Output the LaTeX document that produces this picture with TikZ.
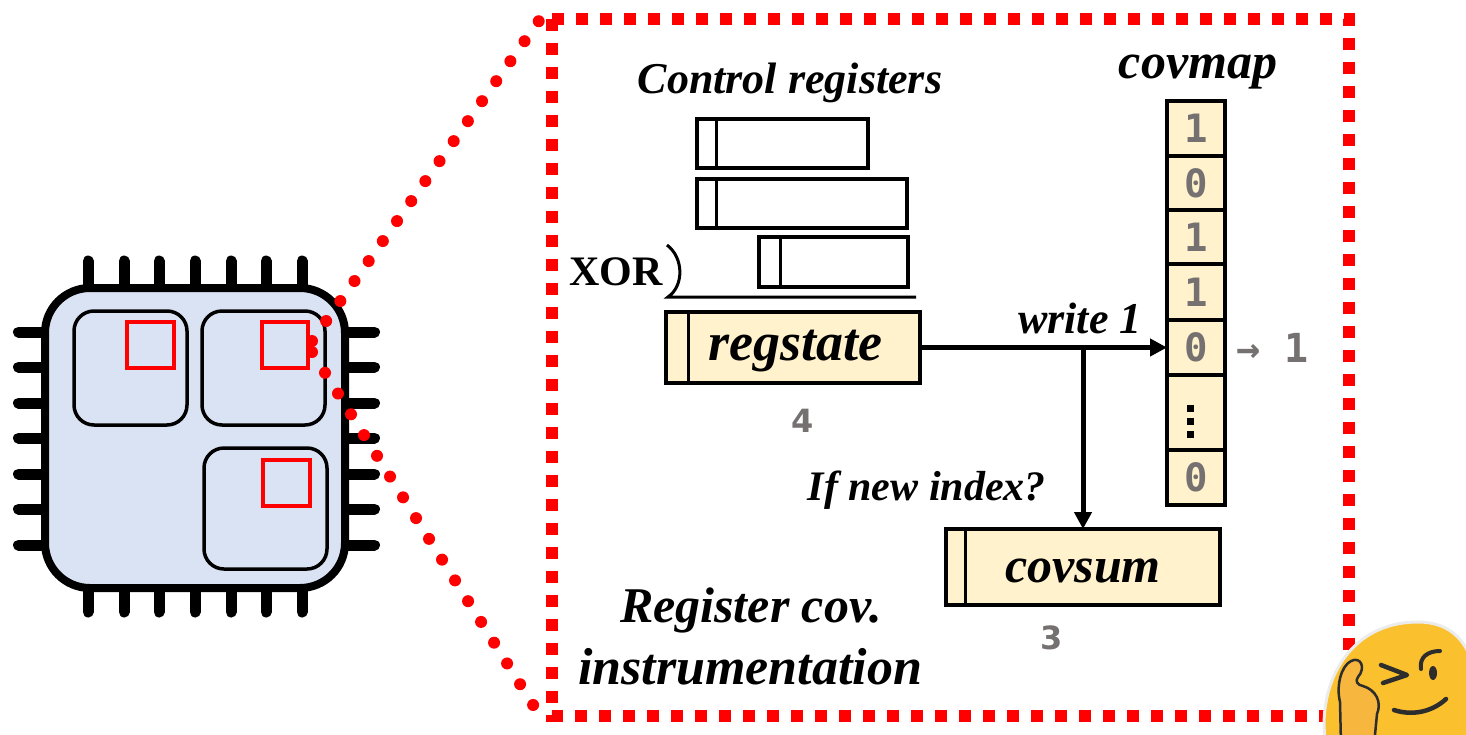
\documentclass[tikz,border=0pt]{standalone}
\usepackage{fontspec}
\setmainfont{Liberation Serif}
\newfontfamily\digitfont{DejaVu Sans Mono}
\newfontfamily\numfont{DejaVu Sans}
\usetikzlibrary{arrows.meta}
\definecolor{chipfill}{HTML}{DAE3F3}
\definecolor{regfill}{HTML}{FFF2CC}
\definecolor{numgray}{RGB}{118,113,113}
\definecolor{blobyellow}{RGB}{251,192,45}
\definecolor{blobrim}{RGB}{236,236,236}
\definecolor{handyellow}{RGB}{247,182,62}
\definecolor{inkdark}{RGB}{45,45,45}
\begin{document}
\begin{tikzpicture}[x=1pt,y=-1pt,
  bi/.style={font=\fontsize{#1}{#1}\selectfont\bfseries\itshape, inner sep=0pt},
  dig/.style={font=\fontsize{#1}{#1}\selectfont\digitfont\bfseries, text=numgray, inner sep=0pt},
  num/.style={font=\fontsize{#1}{#1}\selectfont\numfont\bfseries, text=numgray, inner sep=0pt},
  pin/.style={line width=11pt, line cap=round},
  block/.style={line width=3.5pt, rounded corners=20pt},
  redsq/.style={draw=red, line width=3.5pt},
  regbox/.style={draw, line width=3.5pt, inner sep=0pt, outer sep=0pt,
    path picture={\draw[line width=3pt]
      ([xshift=#1]path picture bounding box.north west) --
      ([xshift=#1]path picture bounding box.south west);}},
  cell/.style={draw, line width=4pt, fill=regfill, minimum width=58pt, inner sep=0pt, outer sep=0pt},
  flow/.style={line width=5pt, -{Triangle[length=17pt,width=17pt]}},
  reddots/.style={draw=red, line width=12pt, line cap=round, dash pattern=on 0pt off 24.5pt},
]
\useasboundingbox (0,0) rectangle (1466,734);

% ---------- chip ----------
\foreach \x in {88,124,159,195,231,266,302} {
  \draw[pin] (\x,261) -- (\x,300);
  \draw[pin] (\x,576) -- (\x,612);
}
\foreach \y in {332,367,403,438,474,509,545} {
  \draw[pin] (18.5,\y) -- (60,\y);
  \draw[pin] (330,\y) -- (374.5,\y);
}
\draw[line width=8pt, fill=chipfill, rounded corners=45pt] (45,288) rectangle (345,588);
\draw[block] (74,311) rectangle (187,425);
\draw[block] (202,311) rectangle (325,425);
\draw[block] (204,448) rectangle (327,569);
\draw[redsq] (127,322) rectangle (174,368);
\draw[redsq] (262,322) rectangle (308,368);
\draw[redsq] (263,460) rectangle (310,506);

% ---------- zoomed frame ----------
\coordinate (frameNW) at (552,19);
\coordinate (frameSE) at (1349,716);
\draw[red, line width=12pt, dash pattern=on 12pt off 12pt] (frameNW) rectangle (frameSE);
\coordinate (zoomA) at (312,341);
\coordinate (zoomB) at (312,352);
\path[reddots] (zoomA) -- (541,18);
\path[reddots] (zoomB) -- (540,716);

% ---------- control registers ----------
\node[bi=44] (ctrltitle) at (790,83) {Control registers};
\node[regbox=19pt, minimum width=171pt, minimum height=49pt] (ctrlA) at (782.5,143.5) {};
\node[regbox=19pt, minimum width=210pt, minimum height=49pt] (ctrlB) at (802,203.5) {};
\node[regbox=21pt, minimum width=149pt, minimum height=50pt] (ctrlC) at (833.5,262) {};
\node[font=\fontsize{42}{42}\selectfont\bfseries, inner sep=0pt] (xor) at (616,272) {XOR};
\draw[line width=3pt] (667,245) .. controls (684,258) and (684,286) .. (668,297) -- (916,297);

% ---------- regstate ----------
\node[regbox=22pt, fill=regfill, minimum width=254pt, minimum height=71pt] (regstate) at (793,347.5) {};
\node[bi=54] (regtext) at (795,351) {regstate};
\node[num=32] (four) at (803,421) {4};

% ---------- covmap ----------
\node[bi=50] (covtitle) at (1198,72) {covmap};
\node[cell, minimum height=55pt] (c1) at (1196,128.5) {};
\node[cell, minimum height=54pt] (c2) at (1196,183) {};
\node[cell, minimum height=54pt] (c3) at (1196,237) {};
\node[cell, minimum height=56pt] (c4) at (1196,292) {};
\node[cell, minimum height=55pt] (c5) at (1196,347.5) {};
\node[cell, minimum height=75pt] (c6) at (1196,412.5) {};
\node[cell, minimum height=55pt] (c7) at (1196,477.5) {};
\node[dig=39] at (c1) {1};
\node[dig=39] at (c2) {0};
\node[dig=39] at (c3) {1};
\node[dig=39] at (c4) {1};
\node[dig=39] at (c5) {0};
\node[dig=39] at (c7) {0};
\foreach \y in {408,421,434} \fill (1187,\y-3.5) rectangle (1194,\y+3.5);
\node[dig=40, anchor=west] (setone) at (1236,347.5) {→ 1};

% ---------- covsum ----------
\node[regbox=19pt, fill=regfill, minimum width=274pt, minimum height=76pt] (covsum) at (1083,567) {};
\node[bi=50] (sumtext) at (1083,571) {covsum};
\node[num=32] (three) at (1052,638) {3};

% ---------- connectors ----------
\draw[flow] (regstate.east) -- (c5.west);
\coordinate (split) at (covsum.north |- regstate.east);
\draw[flow] (split) -- (covsum.north);
\node[bi=44] (writelbl) at (1080,318) {write 1};
\node[bi=42, anchor=east] (newidx) at (1046,490) {If new index?};

% ---------- caption ----------
\node[bi=50] (cap1) at (751,610) {Register cov.};
\node[bi=52] (cap2) at (750,667) {instrumentation};

% ---------- thinking face ----------
\draw[draw=blobrim, line width=3pt, fill=blobyellow]
  (1326,745) .. controls (1316,690) and (1345,622) .. (1418,622)
  .. controls (1475,622) and (1482,680) .. (1482,745) -- cycle;
\draw[draw=inkdark, line width=2.5pt, fill=handyellow, line join=round]
  (1341,745) -- (1340,702) .. controls (1336,686) and (1341,666) .. (1351,661)
  .. controls (1361,656) and (1366,668) .. (1358,677)
  .. controls (1355,681) and (1357,685) .. (1363,686)
  .. controls (1376,690) and (1382,702) .. (1377,714) -- (1374,745);
\draw[inkdark, line width=4.5pt, line cap=round, line join=round]
  (1381,665) -- (1407,675) -- (1383,683);
\draw[inkdark, line width=4pt, line cap=round]
  (1421,669) .. controls (1419,657) and (1428,651) .. (1440,651);
\fill[inkdark] (1433,673) ellipse (4pt and 7pt);
\draw[inkdark, line width=4.5pt, line cap=round]
  (1394,710) .. controls (1412,716) and (1432,712) .. (1446,699);
\end{tikzpicture}
\end{document}
